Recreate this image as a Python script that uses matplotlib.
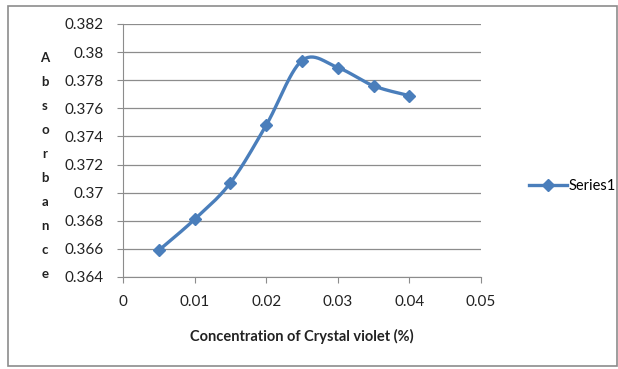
import numpy as np
import matplotlib
matplotlib.use("Agg")
import matplotlib.pyplot as plt
from matplotlib.patches import Rectangle
from matplotlib.lines import Line2D

plt.rcParams['font.family'] = ['Lato', 'DejaVu Sans']

# concentration (%) vs absorbance
conc = [0.005, 0.01, 0.015, 0.02, 0.025, 0.03, 0.035, 0.04]
absorb = [0.3659, 0.3681, 0.3707, 0.3748, 0.3794, 0.3789, 0.3776, 0.3769]
x_ticks = [0, 0.01, 0.02, 0.03, 0.04, 0.05]
y_ticks = [0.364, 0.366, 0.368, 0.37, 0.372, 0.374, 0.376, 0.378, 0.38, 0.382]
x_labels = ["0", "0.01", "0.02", "0.03", "0.04", "0.05"]
y_labels = ["0.364", "0.366", "0.368", "0.37", "0.372", "0.374", "0.376", "0.378", "0.38", "0.382"]

blue = "#4a7ebb"


def smooth(xs, ys, n=30):
    # Excel-like smoothed line: cubic bezier with catmull-rom control points
    xs = np.asarray(xs, float)
    ys = np.asarray(ys, float)
    px = np.concatenate([[xs[0]], xs, [xs[-1]]])
    py = np.concatenate([[ys[0]], ys, [ys[-1]]])
    outx, outy = [], []
    t = np.linspace(0, 1, n)
    for i in range(1, len(px) - 2):
        p0 = np.array([px[i], py[i]])
        p3 = np.array([px[i + 1], py[i + 1]])
        c1 = p0 + (np.array([px[i + 1], py[i + 1]]) - np.array([px[i - 1], py[i - 1]])) / 6
        c2 = p3 - (np.array([px[i + 2], py[i + 2]]) - np.array([px[i], py[i]])) / 6
        pts = ((1 - t) ** 3)[:, None] * p0 + (3 * (1 - t) ** 2 * t)[:, None] * c1 \
            + (3 * (1 - t) * t ** 2)[:, None] * c2 + (t ** 3)[:, None] * p3
        outx.extend(pts[:, 0])
        outy.extend(pts[:, 1])
    return outx, outy


fig = plt.figure(figsize=(6.18, 3.69), dpi=100)
fig.patches.append(Rectangle((8 / 618, 3 / 369), 609 / 618, 360 / 369,
                             transform=fig.transFigure, fill=False,
                             edgecolor="#8c8c8c", linewidth=1.2))

ax = fig.add_axes([123 / 618, 92 / 369, 358 / 618, 253 / 369])
sx, sy = smooth(conc, absorb)
ax.plot(sx, sy, color=blue, linewidth=2.4, solid_capstyle="round")
ax.plot(conc, absorb, linestyle="none", marker="D", markersize=6, color=blue)

ax.set_xlim(0, 0.05)
ax.set_ylim(0.364, 0.382)
ax.set_xticks(x_ticks)
ax.set_xticklabels(x_labels)
ax.set_yticks(y_ticks)
ax.set_yticklabels(y_labels)
ax.yaxis.grid(True, color="#8c8c8c", linewidth=0.9)
ax.set_axisbelow(True)
for s in ["top", "right"]:
    ax.spines[s].set_visible(False)
for s in ["left", "bottom"]:
    ax.spines[s].set_color("#8c8c8c")
ax.tick_params(axis="both", colors="#8c8c8c", length=4, labelsize=11,
               labelcolor="#222222")
ax.tick_params(axis="x", pad=9)
ax.tick_params(axis="y", pad=10)

fig.text(302 / 618, 1 - 336 / 369, "Concentration of Crystal violet (%)",
         ha="center", va="center", fontsize=10.5, fontweight="bold", color="#222222")
fig.text(45 / 618, 1 - 166 / 369, "\n".join("Absorbance"), ha="center",
         va="center", fontsize=9.5, fontweight="bold", linespacing=2.2,
         color="#222222")

handle = Line2D([], [], color=blue, linewidth=2.4, marker="D", markersize=6)
fig.legend([handle], ["Series1"], loc="center left",
           bbox_to_anchor=(516 / 618, 1 - 186 / 369), frameon=False,
           fontsize=10.5, handlelength=2.6, handletextpad=0.1)

fig.savefig("out.png", dpi=100)
